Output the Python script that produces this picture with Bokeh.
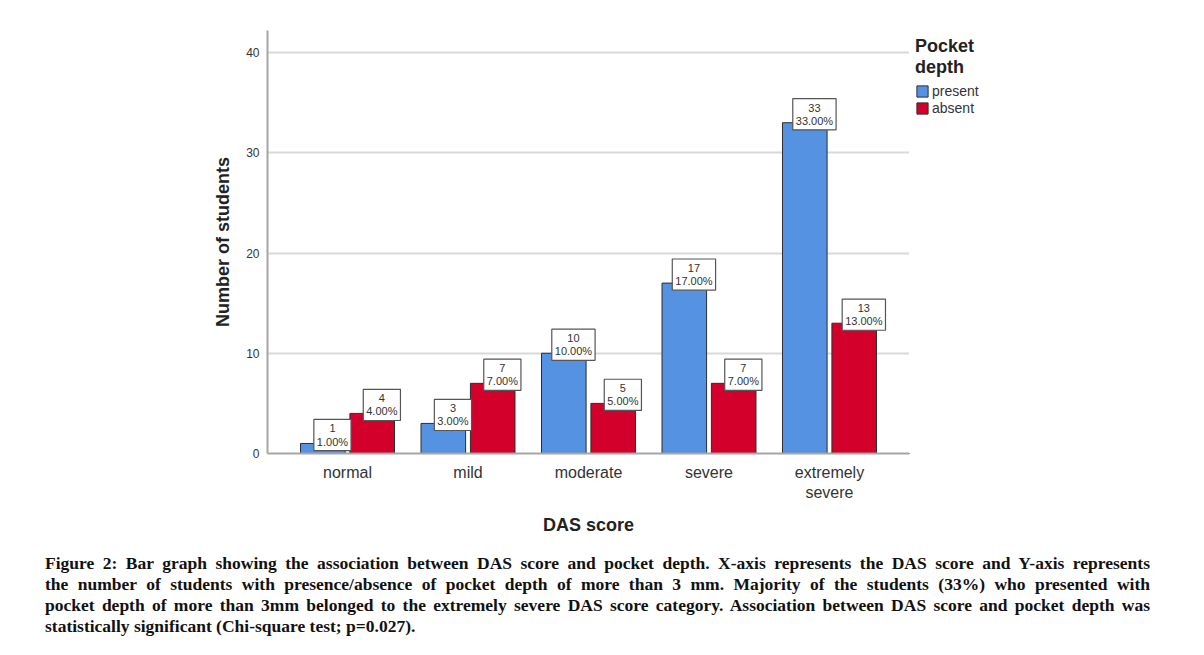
from bokeh.plotting import figure
from bokeh.models import (Range1d, FixedTicker, Legend, LegendItem, ColumnDataSource, Div)
from bokeh.layouts import column, row
from bokeh.core.properties import value
from bokeh.embed import file_html
from bokeh.resources import INLINE

# ---- data ----
categories = ["normal", "mild", "moderate", "severe", "extremely\nsevere"]
present = [1, 3, 10, 17, 33]
absent = [4, 7, 5, 7, 13]
total = 100
y_ticks = [0, 10, 20, 30, 40]
caption_lines = [
    "Figure 2: Bar graph showing the association between DAS score and pocket depth. X-axis represents the DAS score and Y-axis represents",
    "the number of students with presence/absence of pocket depth of more than 3 mm. Majority of the students (33%) who presented with",
    "pocket depth of more than 3mm belonged to the extremely severe DAS score category. Association between DAS score and pocket depth was",
    "statistically significant (Chi-square test; p=0.027).",
]

BLUE = "#5592E2"
RED = "#D2002B"
FONT = "Liberation Sans"

xs = list(range(len(categories)))
off = 0.205
bw = 0.37

src_p = ColumnDataSource(dict(
    x=[x - off for x in xs], top=present,
    lx=[x - off + 0.08 for x in xs], ly=[v + 0.85 for v in present],
    lab=[f"{v}\n{100 * v / total:.2f}%" for v in present]))
src_a = ColumnDataSource(dict(
    x=[x + off for x in xs], top=absent,
    lx=[x + off + 0.08 for x in xs], ly=[v + 0.85 for v in absent],
    lab=[f"{v}\n{100 * v / total:.2f}%" for v in absent]))

p = figure(width=909, height=540, output_backend="svg", toolbar_location=None,
           x_range=Range1d(-0.664, len(categories) - 1 + 0.664),
           y_range=Range1d(0, 42.2),
           min_border_left=267, min_border_right=0, min_border_top=28, min_border_bottom=87)
p.outline_line_color = None

r1 = p.vbar(x="x", top="top", width=bw, source=src_p, fill_color=BLUE, line_color="#2e2e2e", line_width=1)
r2 = p.vbar(x="x", top="top", width=bw, source=src_a, fill_color=RED, line_color="#2e2e2e", line_width=1)

for s in (src_p, src_a):
    p.text(x="lx", y="ly", text="lab", source=s, text_align="center", text_baseline="middle",
           text_font=value(FONT), text_font_size="11px", text_color="#333333", text_line_height=1.1,
           background_fill_color="white", border_line_color="#555555", border_line_width=1.2,
           padding=3)

# axes
xa = p.xaxis[0]
xa.ticker = FixedTicker(ticks=xs)
xa.major_label_overrides = {i: c for i, c in enumerate(categories)}
xa.major_tick_line_color = None
xa.minor_tick_line_color = None
xa.axis_line_color = "#a6a6a6"
xa.axis_line_width = 2
xa.major_label_text_font = FONT
xa.major_label_text_font_size = "16px"
xa.major_label_text_color = "#333333"
xa.major_label_standoff = 4
xa.axis_label = "DAS score"
xa.axis_label_text_font = FONT
xa.axis_label_text_font_size = "18px"
xa.axis_label_text_font_style = "bold"
xa.axis_label_text_color = "#222222"
xa.axis_label_standoff = 11

ya = p.yaxis[0]
ya.ticker = FixedTicker(ticks=y_ticks)
ya.major_tick_line_color = None
ya.minor_tick_line_color = None
ya.axis_line_color = "#a6a6a6"
ya.axis_line_width = 2
ya.major_label_text_font = FONT
ya.major_label_text_font_size = "12px"
ya.major_label_text_color = "#333333"
ya.major_label_standoff = 2
ya.axis_label = "Number of students"
ya.axis_label_text_font = FONT
ya.axis_label_text_font_size = "18px"
ya.axis_label_text_font_style = "bold"
ya.axis_label_text_color = "#222222"
ya.axis_label_standoff = 10

p.xgrid.grid_line_color = None
p.ygrid.ticker = FixedTicker(ticks=y_ticks)
p.ygrid.grid_line_color = "#d9d9d9"
p.ygrid.grid_line_width = 2

# legend in its own side figure (keeps it outside the plot frame)
lf = figure(width=279, height=540, output_backend="svg", toolbar_location=None,
            x_range=Range1d(0, 1), y_range=Range1d(0, 1),
            min_border_left=0, min_border_right=0, min_border_top=30, min_border_bottom=0)
lf.axis.visible = False
lf.grid.visible = False
lf.outline_line_color = None
g1 = lf.vbar(x="x", top="top", bottom="bottom", width=0.01,
             source=ColumnDataSource(dict(x=[-10], top=[-10], bottom=[-10.01])),
             fill_color=BLUE, line_color="#2e2e2e", line_width=1)
g2 = lf.vbar(x="x", top="top", bottom="bottom", width=0.01,
             source=ColumnDataSource(dict(x=[-10], top=[-10], bottom=[-10.01])),
             fill_color=RED, line_color="#2e2e2e", line_width=1)

legend = Legend(items=[LegendItem(label="present", renderers=[g1]),
                       LegendItem(label="absent", renderers=[g2])],
                location="top_left", title="Pocket\ndepth")
legend.title_text_font = FONT
legend.title_text_font_size = "18px"
legend.title_text_font_style = "bold"
legend.title_text_color = "#222222"
legend.title_standoff = 5
legend.label_text_font = FONT
legend.label_text_font_size = "14px"
legend.label_text_color = "#333333"
legend.glyph_width = 14
legend.glyph_height = 14
legend.label_standoff = 3
legend.label_height = 14
legend.spacing = 1
legend.padding = 0
legend.margin = 6
legend.border_line_color = None
legend.background_fill_alpha = 0
lf.add_layout(legend, "center")

# caption
parts = []
for i, line in enumerate(caption_lines):
    last = "left" if i == len(caption_lines) - 1 else "justify"
    parts.append(f'<div style="text-align:justify; text-align-last:{last}; white-space:nowrap;">{line}</div>')
html = ('<div style="width:1105px; margin-left:45px; padding-top:13px; font-family:\'Liberation Serif\'; '
        'font-weight:bold; font-size:17.5px; line-height:21px; color:#111;">' + "".join(parts) + '</div>')
div = Div(text=html, width=1188, height=100, margin=(0, 0, 0, 0))

layout = column(row(p, lf, spacing=0), div, spacing=0)
open("out.html", "w").write(file_html(layout, INLINE))
